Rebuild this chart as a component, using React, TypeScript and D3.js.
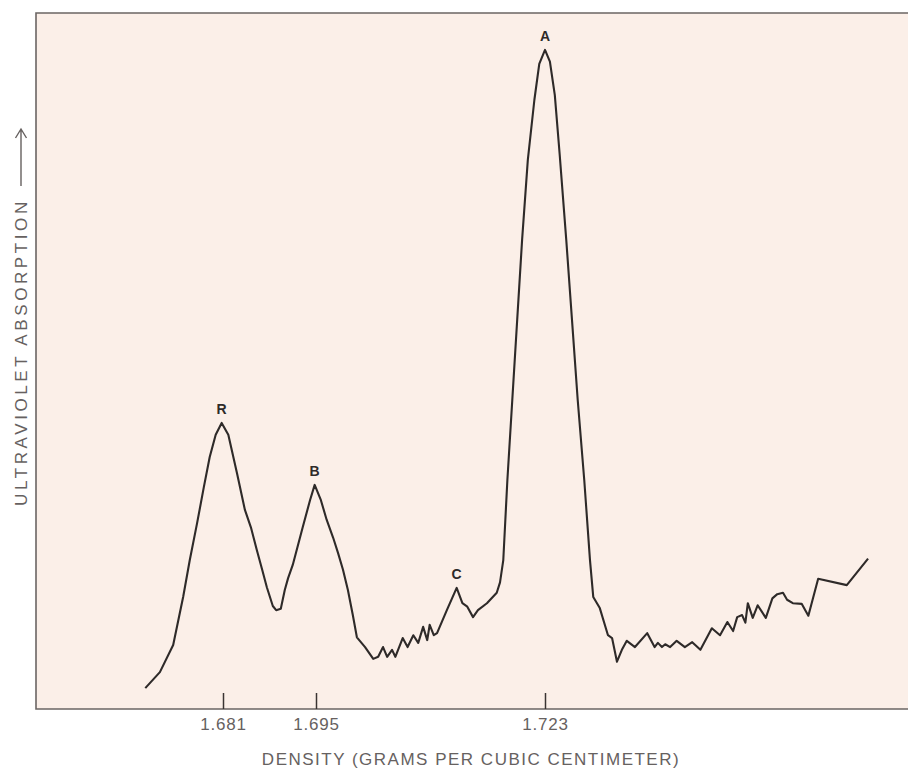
import { useEffect, useRef } from 'react';
import * as d3 from 'd3';

// densities (g/cm3)
const density = [
  1.6693, 1.6715, 1.6735, 1.6750, 1.6760, 1.6771, 1.6781, 1.6790, 1.6799, 1.6808,
  1.6818, 1.6831, 1.6843, 1.6852, 1.6861, 1.6869, 1.6876, 1.6885, 1.6890, 1.6897,
  1.6903, 1.6908, 1.6915, 1.6930, 1.6941, 1.6948, 1.6956, 1.6963, 1.6971, 1.6977,
  1.6983, 1.6989, 1.6995, 1.7000, 1.7010, 1.7020, 1.7026, 1.7032, 1.7037, 1.7043,
  1.7047, 1.7056, 1.7062, 1.7069, 1.7075, 1.7081, 1.7086, 1.7089, 1.7094, 1.7098,
  1.7110, 1.7122, 1.7129, 1.7135, 1.7142, 1.7148, 1.7159, 1.7171, 1.7175, 1.7179,
  1.7184, 1.7190, 1.7196, 1.7202, 1.7209, 1.7217, 1.7223, 1.7230, 1.7236, 1.7242,
  1.7248, 1.7256, 1.7263, 1.7270, 1.7278, 1.7285, 1.7289, 1.7297, 1.7307, 1.7312,
  1.7318, 1.7324, 1.7330, 1.7340, 1.7355, 1.7364, 1.7368, 1.7373, 1.7377, 1.7383,
  1.7391, 1.7401, 1.7410, 1.7420, 1.7434, 1.7444, 1.7453, 1.7460, 1.7465, 1.7471,
  1.7475, 1.7478, 1.7484, 1.7490, 1.7500, 1.7508, 1.7514, 1.7521, 1.7526, 1.7533,
  1.7544, 1.7552, 1.7564, 1.7599, 1.7625
];

// ultraviolet absorption, arbitrary units (0-100)
const absorption = [
  3.0, 5.3, 9.2, 16.1, 21.4, 26.7, 31.8, 36.2, 39.4, 41.1,
  39.4, 33.9, 28.6, 26.1, 22.8, 20.0, 17.5, 14.8, 14.2, 14.4,
  17.1, 18.8, 20.7, 26.1, 30.0, 32.2, 30.0, 27.2, 24.6, 22.4,
  20.0, 17.1, 13.5, 10.3, 8.9, 7.2, 7.5, 8.9, 7.5, 8.5,
  7.5, 10.2, 8.9, 10.6, 9.5, 11.8, 9.9, 12.1, 10.6, 10.9,
  14.2, 17.4, 15.2, 14.7, 13.2, 14.2, 15.2, 16.7, 18.2, 21.4,
  32.9, 44.4, 55.9, 67.4, 78.9, 87.5, 92.7, 94.7, 93.0, 88.2,
  79.6, 67.4, 55.9, 44.4, 32.9, 21.4, 16.1, 14.5, 10.6, 10.2,
  6.8, 8.5, 9.8, 8.9, 10.9, 8.9, 9.5, 8.9, 9.3, 8.9,
  9.8, 8.9, 9.6, 8.5, 11.6, 10.6, 12.5, 11.2, 13.2, 13.5,
  12.4, 15.2, 13.1, 14.9, 13.1, 15.9, 16.5, 16.7, 15.7, 15.2,
  15.1, 13.4, 18.7, 17.8, 21.6
];

const tickValues = [1.681, 1.695, 1.723];
const peakLabels = ['R', 'B', 'C', 'A'];
const peakDensity = [1.6808, 1.6948, 1.7122, 1.7230];
const peakAbsorption = [41.1, 32.2, 17.4, 94.7];

const Chart = () => {
  const svgRef = useRef(null);

  useEffect(() => {
    const width = 908;
    const height = 771;
    const left = 36;
    const top = 13;
    const bottom = 709;
    const font = '"Liberation Sans", Arial, sans-serif';
    const grey = '#666160';

    const data = density.map((d, i) => ({ d, a: absorption[i] }));

    d3.select(svgRef.current).selectAll('*').remove();
    const svg = d3.select(svgRef.current)
      .attr('width', width)
      .attr('height', height);

    // tick spacing on the original is not uniform, so the scale is piecewise
    const x = d3.scaleLinear()
      .domain(tickValues)
      .range([223, 316, 545]);

    const y = d3.scaleLinear()
      .domain([0, 100])
      .range([bottom, top]);

    // plot panel
    svg.append('rect')
      .attr('x', left)
      .attr('y', top)
      .attr('width', width - left)
      .attr('height', bottom - top)
      .attr('fill', '#fbefe8');

    svg.append('path')
      .attr('d', `M${width},${top}H${left}V${bottom}H${width}`)
      .attr('fill', 'none')
      .attr('stroke', '#6b6563')
      .attr('stroke-width', 1.6);

    // x axis ticks (pointing up into the panel)
    const axis = svg.append('g')
      .attr('transform', `translate(0,${bottom})`)
      .call(d3.axisBottom(x)
        .tickValues(tickValues)
        .tickFormat(d3.format('.3f'))
        .tickSizeInner(-16)
        .tickSizeOuter(0)
        .tickPadding(9));
    axis.select('.domain').remove();
    axis.selectAll('.tick line')
      .attr('stroke', '#3a3433')
      .attr('stroke-width', 1.5);
    axis.selectAll('.tick text')
      .attr('fill', grey)
      .style('font-family', font)
      .style('font-size', '17px')
      .style('letter-spacing', '0.8px');

    // trace
    const line = d3.line()
      .x(p => x(p.d))
      .y(p => y(p.a))
      .curve(d3.curveLinear);

    svg.append('path')
      .datum(data)
      .attr('d', line)
      .attr('fill', 'none')
      .attr('stroke', '#2e2a29')
      .attr('stroke-width', 2.1)
      .attr('stroke-linejoin', 'round');

    // peak letters
    svg.selectAll('text.peak')
      .data(peakLabels)
      .join('text')
      .attr('class', 'peak')
      .attr('x', (_, i) => x(peakDensity[i]))
      .attr('y', (_, i) => y(peakAbsorption[i]) - 9)
      .attr('text-anchor', 'middle')
      .attr('fill', '#2e2a29')
      .style('font-family', font)
      .style('font-size', '14px')
      .style('font-weight', 'bold')
      .text(d => d);

    // axis titles
    svg.append('text')
      .attr('x', 471)
      .attr('y', 765)
      .attr('text-anchor', 'middle')
      .attr('fill', grey)
      .style('font-family', font)
      .style('font-size', '17px')
      .style('letter-spacing', '1.5px')
      .text('DENSITY (GRAMS PER CUBIC CENTIMETER)');

    svg.append('text')
      .attr('transform', 'translate(27,506) rotate(-90)')
      .attr('fill', grey)
      .style('font-family', font)
      .style('font-size', '17px')
      .style('letter-spacing', '3.6px')
      .text('ULTRAVIOLET ABSORPTION');

    // arrow
    svg.append('path')
      .attr('d', 'M21,186V129M15.5,138L21,129L26.5,138')
      .attr('fill', 'none')
      .attr('stroke', grey)
      .attr('stroke-width', 1.4);
  }, []);

  return <svg ref={svgRef} style={{ position: 'absolute', left: 0, top: 0, display: 'block' }} />;
};

export default function App() {
  return <Chart />;
}
